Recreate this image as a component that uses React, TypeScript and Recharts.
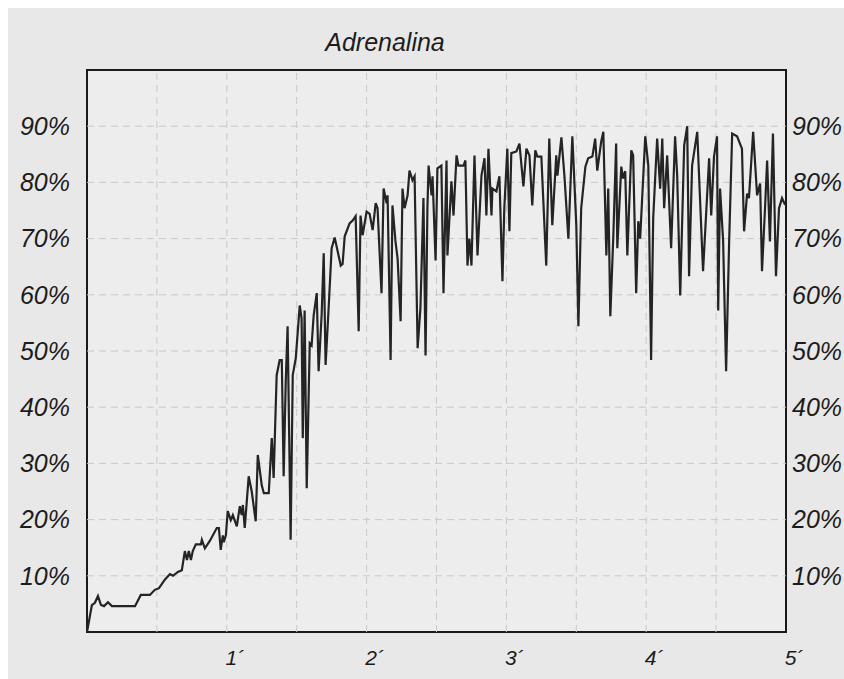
import React from "react";
import { LineChart, Line, XAxis, YAxis, ReferenceLine, ReferenceArea } from "recharts";

// time in seconds
const times: number[] = [
  0, 2.1, 3.4, 4.7, 6.0, 7.3, 9.0, 10.7, 20.6, 23.1, 27.0, 29.1, 30.9, 33.4, 35.6, 36.9, 39.0, 40.7,
  42.0, 42.9, 43.7, 44.6, 45.4, 46.7, 48.9, 49.3, 50.6, 52.7, 55.7, 56.6, 57.4, 58.3, 58.7, 59.6,
  60.4, 61.7, 62.6, 64.3, 65.6, 66.4, 66.9, 67.7, 69.4, 70.7, 72.4, 73.3, 75.0, 75.9, 78.0, 79.3,
  80.1, 81.4, 82.7, 83.6, 84.4, 85.3, 86.1, 87.4, 88.3, 89.6, 91.3, 92.1, 92.6, 93.4, 94.3, 95.6,
  96.4, 97.3, 98.6, 99.4, 100.7, 101.6, 102.4, 103.7, 105.0, 106.3, 107.6, 108.9, 109.7, 110.6,
  112.7, 114.0, 115.3, 116.6, 117.4, 118.3, 120.0, 121.3, 122.6, 123.9, 124.7, 126.4, 127.3, 128.6,
  129.0, 130.3, 131.1, 132.4, 133.3, 134.6, 135.4, 136.3, 137.6, 138.4, 139.7, 140.6, 141.9, 143.1,
  144.4, 145.3, 146.1, 146.6, 147.9, 148.3, 149.6, 150.4, 152.1, 153.0, 154.3, 154.7, 156.4, 157.3,
  158.6, 159.4, 161.6, 162.4, 163.3, 164.1, 165.0, 166.3, 167.6, 169.3, 170.6, 171.4, 172.3, 173.6,
  174.0, 175.7, 177.0, 178.3, 179.1, 180.4, 181.3, 182.1, 184.3, 185.6, 187.3, 188.6, 189.9, 191.1,
  192.4, 193.3, 195.0, 197.1, 198.4, 199.7, 201.4, 201.9, 203.6, 204.9, 206.6, 208.3, 210.0, 210.9,
  212.1, 213.9, 215.1, 216.9, 218.1, 219.0, 220.7, 221.6, 222.9, 223.7, 224.6, 225.9, 227.1, 227.6,
  229.3, 230.1, 231.0, 231.9, 233.6, 234.4, 235.7, 236.6, 237.4, 239.6, 240.9, 242.1, 243.0, 244.7,
  246.0, 246.9, 247.7, 249.0, 250.7, 252.4, 253.3, 254.6, 256.3, 257.6, 258.4, 259.7, 261.9, 264.4,
  267.0, 267.9, 269.1, 270.4, 270.9, 271.7, 273.0, 274.3, 275.6, 276.9, 279.0, 281.1, 282.0, 283.3,
  284.1, 285.9, 287.6, 288.9, 289.7, 291.0, 291.9, 293.1, 294.4, 295.7, 297.0, 298.3, 299.6,
];

// adrenaline level in percent
const levels: number[] = [
  0, 4.8, 5.2, 6.4, 4.8, 4.6, 5.3, 4.6, 4.6, 6.6, 6.6, 7.5, 7.8, 9.3, 10.3, 10.0, 10.7, 11.0,
  14.4, 12.8, 14.4, 12.8, 14.4, 15.6, 15.6, 16.4, 14.9, 16.2, 18.5, 18.5, 14.6, 17.2, 16.0, 17.2,
  21.5, 19.9, 20.8, 18.8, 22.4, 20.8, 22.6, 18.5, 27.7, 25.0, 19.7, 31.5, 26.1, 24.7, 24.7, 34.5,
  27.4, 45.7, 48.4, 48.4, 27.7, 44.6, 54.4, 16.4, 45.7, 48.7, 58.1, 55.8, 34.5, 57.2, 25.6, 51.4,
  51.0, 56.4, 60.3, 46.4, 56.4, 67.4, 47.5, 57.6, 68.3, 70.2, 67.7, 65.2, 65.5, 70.4,
  72.7, 73.2, 74.0, 53.5, 74.1, 70.6, 74.8, 74.4, 71.5, 76.3, 75.4, 60.3, 78.9, 76.3,
  77.7, 48.4, 75.9, 69.5, 66.5, 55.3, 78.9, 75.4, 77.7, 82.1, 80.4, 81.1, 50.5, 57.6,
  77.2, 49.2, 75.4, 83.0, 77.7, 81.1, 66.1, 82.5, 83.0, 60.3, 83.9, 67.0, 80.2, 74.1,
  84.8, 83.0, 83.0, 83.9, 65.2, 70.0, 65.2, 84.8, 67.0, 81.2, 84.3, 74.1, 86.0, 74.1,
  78.9, 78.4, 81.1, 62.4, 75.4, 86.0, 71.3, 85.2, 85.5, 86.9, 79.3, 86.0, 84.8, 75.9,
  85.7, 84.6, 84.6, 65.2, 87.8, 72.4, 84.8, 81.2, 88.0, 81.2, 70.0, 88.2, 72.4, 54.4,
  75.4, 82.8, 84.3, 84.6, 87.8, 82.1, 87.3, 89.0, 67.0, 78.9, 56.2, 70.6, 86.9, 68.3,
  82.8, 80.7, 82.0, 67.0, 85.7, 84.8, 60.3, 73.1, 70.0, 88.2, 83.0, 48.4, 73.6, 87.8,
  78.9, 87.8, 75.4, 84.8, 68.3, 88.2, 81.2, 59.9, 86.6, 90.0, 63.3, 83.0, 89.0, 64.2,
  84.3, 74.1, 84.6, 88.2, 57.2, 78.9, 69.7, 46.4, 69.5, 88.7, 88.2, 86.0, 71.3, 78.0,
  77.2, 89.0, 77.7, 79.8, 64.2, 75.4, 83.9, 69.5, 88.7, 63.3, 75.4, 77.2, 76.0,
];

const xTicks: number[] = [60, 120, 180, 240, 300];
const yTicks: number[] = [10, 20, 30, 40, 50, 60, 70, 80, 90];
const xGrid: number[] = [30, 60, 90, 120, 150, 180, 210, 240, 270];
const title = "Adrenalina";

const data = times.map((t, i) => ({ t, v: levels[i] }));

const font = "'Liberation Sans', Arial, Helvetica, sans-serif";
const labelStyle = { fill: "#1c1c1c", fontSize: 25, fontStyle: "italic", fontFamily: font };

export default function App() {
  return (
    <div
      style={{
        position: "fixed",
        left: 8,
        top: 8,
        width: 836,
        height: 671,
        background: "#e8e8e8",
        overflow: "hidden",
      }}
    >
      <div
        style={{
          position: "absolute",
          left: 227,
          width: 300,
          top: 20,
          textAlign: "center",
          fontFamily: font,
          fontStyle: "italic",
          fontSize: 25,
          color: "#1c1c1c",
          lineHeight: "28px",
        }}
      >
        {title}
      </div>
      <LineChart width={836} height={671} data={data} margin={{ top: 62, right: 0, bottom: 0, left: 0 }}>
        <XAxis
          dataKey="t"
          type="number"
          domain={[0, 300]}
          ticks={xTicks}
          tickFormatter={(v: number) => `${v / 60}´`}
          axisLine={false}
          tickLine={false}
          tickSize={0}
          tickMargin={18}
          height={47}
          interval={0}
          tick={{ ...labelStyle, fontSize: 21, dx: 8 }}
        />
        <YAxis
          yAxisId="left"
          orientation="left"
          domain={[0, 100]}
          ticks={yTicks}
          tickFormatter={(v: number) => `${v}%`}
          axisLine={false}
          tickLine={false}
          tickSize={0}
          tickMargin={17}
          width={79}
          interval={0}
          tick={labelStyle}
        />
        <YAxis
          yAxisId="right"
          orientation="right"
          domain={[0, 100]}
          ticks={yTicks}
          tickFormatter={(v: number) => `${v}%`}
          axisLine={false}
          tickLine={false}
          tickSize={0}
          tickMargin={6}
          width={58}
          interval={0}
          tick={{ ...labelStyle, textAnchor: "start" }}
        />
        <ReferenceArea
          yAxisId="left"
          x1={0}
          x2={300}
          y1={0}
          y2={100}
          fill="#ededed"
          fillOpacity={1}
          stroke="none"
        />
        {yTicks.map((y) => (
          <ReferenceLine
            key={`h${y}`}
            yAxisId="left"
            y={y}
            stroke="#c9c9c9"
            strokeDasharray="7 5"
            strokeWidth={1}
          />
        ))}
        {xGrid.map((x) => (
          <ReferenceLine
            key={`v${x}`}
            yAxisId="left"
            x={x}
            stroke="#c9c9c9"
            strokeDasharray="7 5"
            strokeWidth={1}
          />
        ))}
        <Line
          yAxisId="right"
          type="linear"
          dataKey="v"
          stroke="none"
          strokeOpacity={0}
          dot={false}
          activeDot={false}
          legendType="none"
          isAnimationActive={false}
        />
        <Line
          yAxisId="left"
          type="linear"
          dataKey="v"
          stroke="#242424"
          strokeWidth={2.2}
          dot={false}
          isAnimationActive={false}
        />
        <ReferenceArea
          yAxisId="right"
          x1={0}
          x2={300}
          y1={0}
          y2={100}
          fill="none"
          fillOpacity={0}
          stroke="#1a1a1a"
          strokeWidth={2}
        />
      </LineChart>
    </div>
  );
}
